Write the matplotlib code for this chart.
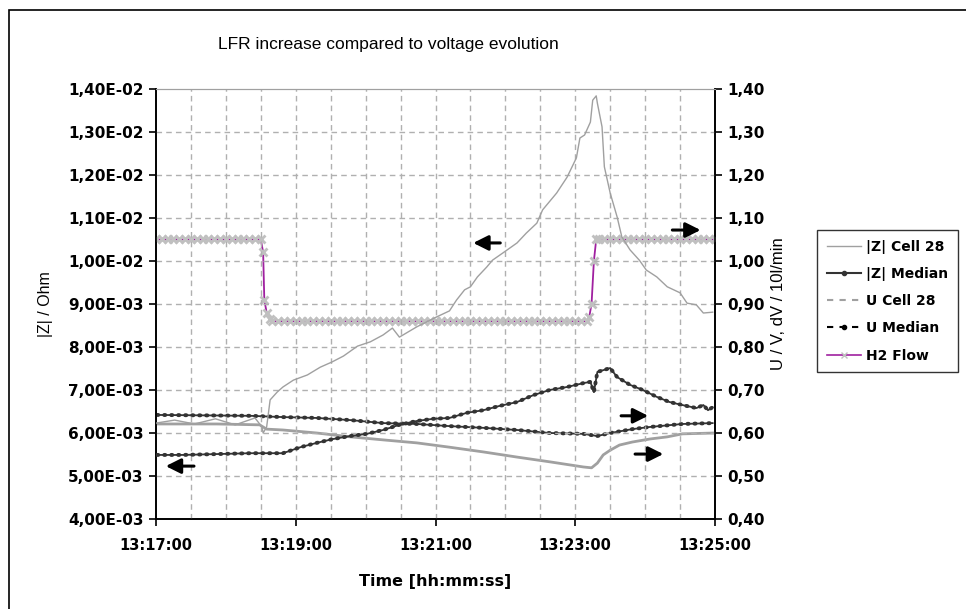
import matplotlib.pyplot as plt
import numpy as np
from matplotlib.lines import Line2D
from matplotlib.patches import Rectangle

plt.rcParams['font.family'] = ['Liberation Sans', 'DejaVu Sans']

# --- Data (time in seconds after 13:17:00) ------------------------------
z_cell_t = [0, 16, 33, 51, 68, 85, 91, 92, 95, 98, 104, 109, 118, 130, 141, 151,
            161, 173, 184, 195, 203, 209, 224, 241, 252, 258, 265, 270, 276, 284,
            289, 298, 310, 318, 327, 332, 344, 353, 361, 364, 368, 373, 375, 378,
            379, 383, 385, 390, 396, 400, 407, 415, 421, 430, 439, 450, 456, 464,
            470, 478]
z_cell = [6.23, 6.30, 6.21, 6.33, 6.19, 6.35, 6.14, 6.00, 6.14, 6.77, 6.95, 7.07,
          7.23, 7.35, 7.53, 7.65, 7.79, 8.02, 8.12, 8.28, 8.44, 8.23, 8.47, 8.70,
          8.84, 9.09, 9.33, 9.40, 9.63, 9.86, 10.02, 10.19, 10.42, 10.65, 10.88,
          11.19, 11.58, 11.95, 12.40, 12.86, 12.93, 13.23, 13.74, 13.84, 13.67,
          13.12, 12.19, 11.58, 11.02, 10.56, 10.26, 10.02, 9.79, 9.63, 9.40, 9.26,
          9.02, 8.98, 8.79, 8.81]  # 1E-3 Ohm

z_med_t = [1, 23, 52, 81, 109, 124, 138, 152, 167, 181, 195, 209, 224, 238, 252,
           267, 281, 295, 310, 324, 338, 353, 367, 373, 376, 379, 390, 396, 407,
           418, 430, 441, 452, 464, 470, 474, 478]
z_med = [5.49, 5.49, 5.51, 5.53, 5.53, 5.67, 5.77, 5.86, 5.93, 5.98, 6.07, 6.19,
         6.28, 6.33, 6.35, 6.47, 6.53, 6.63, 6.72, 6.88, 7.00, 7.07, 7.16, 7.19,
         6.95, 7.42, 7.51, 7.30, 7.12, 7.00, 6.84, 6.72, 6.65, 6.58, 6.65, 6.53,
         6.60]  # 1E-3 Ohm

u_cell_t = [1, 52, 89, 95, 109, 138, 167, 195, 224, 252, 281, 310, 338, 367, 374,
            379, 384, 390, 398, 409, 424, 439, 452, 480]
u_cell = [0.621, 0.621, 0.619, 0.609, 0.607, 0.600, 0.591, 0.584, 0.577, 0.567,
          0.556, 0.544, 0.533, 0.521, 0.519, 0.530, 0.549, 0.560, 0.572, 0.579,
          0.586, 0.591, 0.598, 0.600]

u_med_t = [1, 81, 109, 138, 167, 195, 224, 252, 281, 310, 338, 367, 379, 390, 409,
           424, 452, 478]
u_med = [0.642, 0.640, 0.637, 0.635, 0.630, 0.623, 0.621, 0.616, 0.612, 0.607,
         0.600, 0.598, 0.593, 0.600, 0.609, 0.614, 0.621, 0.623]

h2_t = np.concatenate([np.arange(0, 91, 5), [92, 93, 95, 98],
                       np.arange(100, 371, 5), [372, 374, 376, 378],
                       np.arange(380, 481, 5)])
h2_flow = ([1.05] * 19 + [1.02, 0.91, 0.88, 0.865] + [0.86] * 55
           + [0.87, 0.90, 1.00, 1.05] + [1.05] * 21)

x_ticks = [0, 120, 240, 360, 480]
x_labels = ["13:17:00", "13:19:00", "13:21:00", "13:23:00", "13:25:00"]
left_ticks = np.arange(4, 14.01, 1)
left_labels = ["4,00E-03", "5,00E-03", "6,00E-03", "7,00E-03", "8,00E-03",
               "9,00E-03", "1,00E-02", "1,10E-02", "1,20E-02", "1,30E-02",
               "1,40E-02"]
right_ticks = np.arange(0.4, 1.401, 0.1)
right_labels = ["0,40", "0,50", "0,60", "0,70", "0,80", "0,90", "1,00", "1,10",
                "1,20", "1,30", "1,40"]

# --- Figure --------------------------------------------------------------
fig = plt.figure(figsize=(9.66, 6.09), dpi=100)
fig.patches.append(Rectangle((9 / 966, -0.1), 1.2, 1.1 - 10 / 609,
                             transform=fig.transFigure, fill=False,
                             edgecolor="black", linewidth=1.2))

ax = fig.add_axes([156 / 966, 1 - 519 / 609, 559 / 966, 430 / 609])
ax2 = ax.twinx()
ax.set_zorder(ax2.get_zorder() + 1)
ax.patch.set_visible(False)

ax.set_xlim(0, 480)
ax.set_ylim(4, 14)
ax2.set_ylim(0.4, 1.4)

# grid
for yv in left_ticks[1:-1]:
    ax.axhline(yv, color="#b0b0b0", lw=1, ls=(0, (4, 3)), zorder=0)
for xv in np.arange(30, 480, 30):
    ax.axvline(xv, color="#b0b0b0", lw=1, ls=(0, (4, 3)), zorder=0)

# right axis series
ax2.plot(h2_t, h2_flow, color="#a020a0", lw=1.3, zorder=3)
ax2.plot(h2_t, h2_flow, ls="none", marker="x", ms=6, mew=2,
         mec="#c0c0c0", zorder=3)
ax2.plot(u_cell_t, u_cell, color="#a0a0a0", lw=2, zorder=3)
ax2.plot(u_med_t, u_med, color="#333333", lw=1.3, zorder=4)
ax2.plot(u_med_t, u_med, color="#333333", lw=2.8, ls=(0, (0.3, 1.5)),
         dash_capstyle="round", zorder=4)

# left axis series
ax.plot(z_cell_t, z_cell, color="#a0a0a0", lw=1, zorder=3)
ax.plot(z_med_t, z_med, color="#333333", lw=1.3, zorder=4)
ax.plot(z_med_t, z_med, color="#333333", lw=2.8, ls=(0, (0.3, 1.5)),
        dash_capstyle="round", zorder=4)

# arrows
arrow_kw = dict(arrowstyle="-|>,head_length=0.9,head_width=0.45", color="black", lw=2.2)
ax.annotate("", xy=(270, 10.42), xytext=(298, 10.42), arrowprops=arrow_kw)
ax.annotate("", xy=(470, 10.72), xytext=(441, 10.72), arrowprops=arrow_kw)
ax.annotate("", xy=(425, 6.40), xytext=(397, 6.40), arrowprops=arrow_kw)
ax.annotate("", xy=(438, 5.51), xytext=(409, 5.51), arrowprops=arrow_kw)
ax.annotate("", xy=(6, 5.23), xytext=(35, 5.23), arrowprops=arrow_kw)

# axes styling
tick_font = dict(fontsize=11, fontweight="bold", family="DejaVu Sans")
ax.set_xticks(x_ticks)
ax.set_xticklabels(x_labels, fontsize=10.5, fontweight="bold", family="DejaVu Sans")
ax.set_yticks(left_ticks)
ax.set_yticklabels(left_labels, **tick_font)
ax2.set_yticks(right_ticks)
ax2.set_yticklabels(right_labels, **tick_font)
for a in (ax, ax2):
    a.tick_params(direction="out", length=5, width=1.2, colors="black", pad=4)
    a.spines["top"].set_color("#a0a0a0")
    for s in ("left", "right", "bottom"):
        a.spines[s].set_linewidth(1.2)
ax.tick_params(axis="x", pad=9)

ax.set_ylabel("|Z| / Ohm", fontsize=11.5)
ax.yaxis.set_label_coords(-0.185, 0.5)
ax2.set_ylabel("U / V, dV / 10l/min", fontsize=12)
ax2.yaxis.set_label_coords(1.100, 0.5)
ax.set_xlabel("Time [hh:mm:ss]", fontsize=11.5, fontweight="bold", family="DejaVu Sans")
ax.xaxis.set_label_coords(0.5, -0.128)
fig.text(388 / 966, 1 - 44 / 609, "LFR increase compared to voltage evolution",
         fontsize=12.5, ha="center", va="center")

# legend
handles = [
    Line2D([], [], color="#a0a0a0", lw=1),
    Line2D([], [], color="#333333", lw=1.5, marker="o", ms=3),
    Line2D([], [], color="#a0a0a0", lw=1.5, ls=(0, (3, 3))),
    Line2D([], [], color="black", lw=1.5, ls=(0, (3, 3)), marker="o", ms=3),
    Line2D([], [], color="#a020a0", lw=1.2, marker="x", ms=4, mec="#c0c0c0"),
]
labels = ["|Z| Cell 28", "|Z| Median", "U Cell 28", "U Median", "H2 Flow"]
leg = fig.legend(handles, labels, loc="upper left",
                 bbox_to_anchor=(817 / 966, 1 - 230 / 609),
                 prop=dict(size=10, weight="bold", family="DejaVu Sans"),
                 frameon=True, fancybox=False,
                 edgecolor="black", borderpad=0.7, handlelength=2.5,
                 labelspacing=0.95, handletextpad=0.35, borderaxespad=0)
leg.get_frame().set_linewidth(1)

fig.savefig("out.png", dpi=100)
